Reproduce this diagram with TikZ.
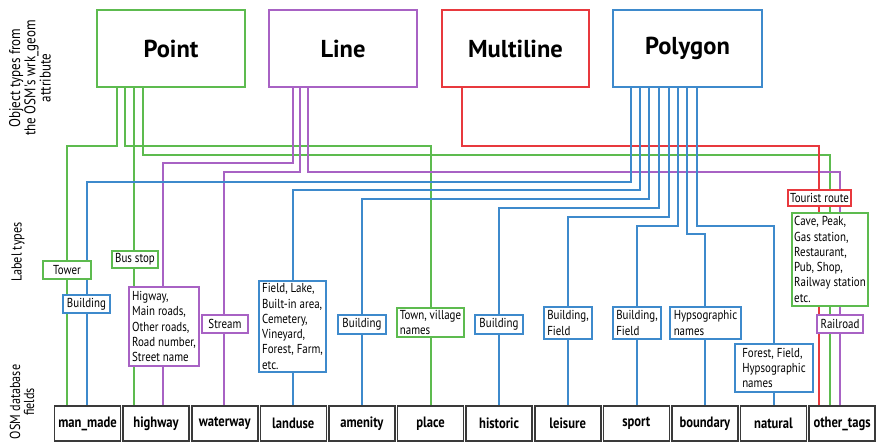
\documentclass[tikz,border=0pt]{standalone}
\usepackage{fontspec}
\setmainfont{PT Sans}
\newfontfamily\condfont{PT Sans}[FakeStretch=0.84]
\pgfdeclarelayer{paper}
\pgfdeclarelayer{wires}
\pgfsetlayers{paper,wires,main}
\definecolor{cg}{HTML}{5DBB4F}
\definecolor{cp}{HTML}{A862C4}
\definecolor{cb}{HTML}{3E8ACC}
\definecolor{cr}{HTML}{E8393E}
\definecolor{fg}{HTML}{3A3A3A}
\begin{document}
\begin{tikzpicture}[x=1pt,y=-1pt,
  topbox/.style={draw=#1, line width=1.8, minimum width=148, minimum height=77, inner sep=0,
    font=\fontsize{24.5}{26}\selectfont\bfseries},
  field/.style={draw=fg, line width=1.6, minimum width=66, minimum height=35, inner sep=0,
    font=\condfont\bfseries\fontsize{15}{16}\selectfont},
  lbl/.style={draw=#1, line width=1.6, fill=white, inner xsep=2, inner ysep=1, align=left,
    font=\condfont\fontsize{13}{15.3}\selectfont},
  side/.style={rotate=90, align=center, inner sep=0, font=\condfont\fontsize{14.5}{14}\selectfont},
  wire/.style={draw=#1, line width=1.8}]
\begin{pgfonlayer}{paper}
\fill[white] (0,0) rectangle (876,443);
\end{pgfonlayer}
\useasboundingbox (0,0) rectangle (876,443);

% side titles
\node[side, font=\condfont\fontsize{15.5}{14}\selectfont] (s1) at (30,78) {Object types from\\the OSM's wrk\_geom\\attribute};
\node[side] (s2) at (18,252) {Label types};
\node[side] (s3) at (22,402) {OSM database\\fields};

% object types
\node[topbox=cg] (point) at (171,48.5) {Point};
\node[topbox=cp] (line) at (343,48.5) {Line};
\node[topbox=cr, minimum width=147] (multi) at (515.5,48.5) {Multiline};
\node[topbox=cb, minimum width=149] (poly) at (687.5,48.5) {Polygon};

% OSM fields
\node[field] (manmade)  at (87.5,423.5) {man\_made};
\node[field] (highway)  at (156.1,423.5) {highway};
\node[field] (waterway) at (224.7,423.5) {waterway};
\node[field] (landuse)  at (293.3,423.5) {landuse};
\node[field] (amenity)  at (361.9,423.5) {amenity};
\node[field] (place)    at (430.5,423.5) {place};
\node[field] (historic) at (499.1,423.5) {historic};
\node[field] (leisure)  at (567.7,423.5) {leisure};
\node[field] (sport)    at (636.3,423.5) {sport};
\node[field] (boundary) at (704.9,423.5) {boundary};
\node[field] (natural)  at (773.5,423.5) {natural};
\node[field] (other)    at (842.1,423.5) {other\_tags};

% label types
\node[lbl=cg, minimum width=48, minimum height=18] (tower) at (67,270) {Tower};
\node[lbl=cb, minimum width=47, minimum height=18] (bld1) at (86.5,304) {Building};
\node[lbl=cg, minimum width=46, minimum height=17] (busstop) at (135,259.5) {Bus stop};
\node[lbl=cp, minimum width=70, minimum height=79] (hwylbl) at (164,326.5)
  {Higway,\\Main roads,\\Other roads,\\Road number,\\Street name};
\node[lbl=cp, minimum width=46, minimum height=18] (stream) at (225,324) {Stream};
\node[lbl=cb, minimum width=67, minimum height=91] (landlbl) at (292.5,326.5)
  {Field, Lake,\\Built-in area,\\Cemetery,\\Vineyard,\\Forest, Farm,\\etc.};
\node[lbl=cb, minimum width=48, minimum height=19] (bld2) at (362,324.5) {Building};
\node[lbl=cg, minimum width=67, minimum height=29] (town) at (430.5,322.5)
  {Town, village\\names};
\node[lbl=cb, minimum width=48, minimum height=19] (bld3) at (499,324.5) {Building};
\node[lbl=cb, minimum width=48, minimum height=32] (bf1) at (568,323)
  {Building,\\Field};
\node[lbl=cb, minimum width=48, minimum height=32] (bf2) at (637,323)
  {Building,\\Field};
\node[lbl=cb, minimum width=71, minimum height=32] (hyps) at (705.5,323)
  {Hypsographic\\names};
\node[lbl=cb, minimum width=78, minimum height=48] (natlbl) at (774,368)
  {Forest, Field,\\Hypsographic\\names};
\node[lbl=cr, minimum width=63, minimum height=16] (tourist) at (819.5,198) {Tourist route};
\node[lbl=cg, minimum width=68, minimum height=93] (cave) at (830,259.5)
  {Cave, Peak,\\Gas station,\\Restaurant,\\Pub, Shop,\\Railway station\\etc.};
\node[lbl=cp, minimum width=46, minimum height=18] (railroad) at (840,324) {Railroad};

% connectors
\begin{pgfonlayer}{wires}
  % Point
  \draw[wire=cg] (117,0 |- point.south) |- (67,146) -- (67,0 |- manmade.north);
  \draw[wire=cg] (125,0 |- point.south) |- (431,146) -- (431,0 |- place.north);
  \draw[wire=cg] (134,0 |- point.south) -- (134,0 |- highway.north);
  \draw[wire=cg] (143,0 |- point.south) |- (830,155) -- (830,0 |- other.north);
  % Line
  \draw[wire=cp] (293,0 |- line.south) |- (163,163) -- (163,0 |- highway.north);
  \draw[wire=cp] (300,0 |- line.south) |- (224,172) -- (224,0 |- waterway.north);
  \draw[wire=cp] (308,0 |- line.south) |- (840,172) -- (840,0 |- other.north);
  % Multiline
  \draw[wire=cr] (462,0 |- multi.south) |- (819,146) -- (819,0 |- other.north);
  % Polygon
  \draw[wire=cb] (631,0 |- poly.south) |- (87,182) -- (87,0 |- manmade.north);
  \draw[wire=cb] (640,0 |- poly.south) |- (293,190) -- (293,0 |- landuse.north);
  \draw[wire=cb] (649,0 |- poly.south) |- (362,199) -- (362,0 |- amenity.north);
  \draw[wire=cb] (659,0 |- poly.south) |- (499,208) -- (499,0 |- historic.north);
  \draw[wire=cb] (669,0 |- poly.south) |- (568,217) -- (568,0 |- leisure.north);
  \draw[wire=cb] (678,0 |- poly.south) |- (637,226) -- (637,0 |- sport.north);
  \draw[wire=cb] (687,0 |- poly.south) |- (705,234) -- (705,0 |- boundary.north);
  \draw[wire=cb] (697,0 |- poly.south) |- (774,226) -- (774,0 |- natural.north);
\end{pgfonlayer}
\end{tikzpicture}
\end{document}
